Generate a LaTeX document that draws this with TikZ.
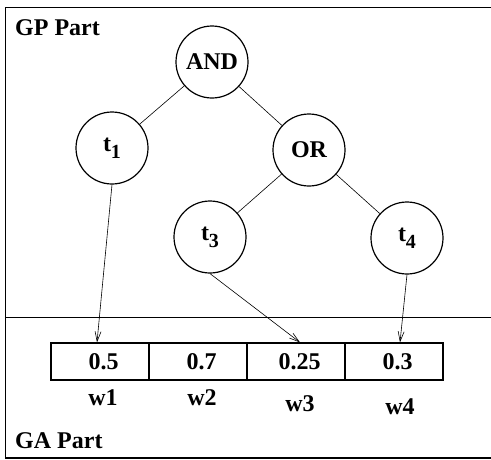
\documentclass[tikz,border=0pt]{standalone}
\usepackage{fontspec}
\setmainfont{Liberation Serif}
\usetikzlibrary{arrows.meta}
\newcommand{\tsub}[1]{t\raisebox{-7pt}{\fontsize{20}{20}\selectfont #1}}
\begin{document}
\begin{tikzpicture}[x=1pt, y=-1pt, >={Straight Barb[length=10pt,width=6pt]},
  every node/.style={font=\fontsize{24}{24}\selectfont\bfseries},
  gene/.style={draw, circle, line width=1.2pt, minimum size=72pt, inner sep=0pt},
  cell/.style={draw, line width=1.2pt, minimum width=98pt, minimum height=37pt, inner sep=0pt}]
  \useasboundingbox (0,0) rectangle (491,459);
  % frame and divider
  \draw[line width=1.6pt] (500,7.5) -- (5.5,7.5) -- (5.5,458) -- (500,458);
  \draw[line width=1.6pt] (5.5,317.5) -- (500,317.5);
  \node[anchor=base west, inner sep=0pt] (gp) at (15,35) {GP Part};
  \node[anchor=base west, inner sep=0pt] (ga) at (15,448) {GA Part};
  % GP tree
  \node[gene] (and) at (212,62) {AND};
  \node[gene] (t1) at (112,148) {\tsub{1}};
  \node[gene] (or) at (309,150) {OR};
  \node[gene] (t3) at (210,237) {\tsub{3}};
  \node[gene] (t4) at (407,238) {\tsub{4}};
  \draw[line width=0.6pt] (and) -- (t1);
  \draw[line width=0.6pt] (and) -- (or);
  \draw[line width=0.6pt] (or) -- (t3);
  \draw[line width=0.6pt] (or) -- (t4);
  % GA weights
  \node[cell] (c1) at (100,361.5) {\hspace{7pt}0.5};
  \node[cell] (c2) at (198,361.5) {\hspace{7pt}0.7};
  \node[cell] (c3) at (296,361.5) {\hspace{7pt}0.25};
  \node[cell] (c4) at (394,361.5) {\hspace{7pt}0.3};
  \node (w1) at (103,398) {w1};
  \node (w2) at (202,398) {w2};
  \node (w3) at (300,404) {w3};
  \node (w4) at (400,407) {w4};
  % links
  \draw[->, line width=0.6pt] (t1.south) -- ([xshift=-3pt]c1.north);
  \draw[->, line width=0.6pt] (t3.south) -- ([xshift=4pt]c3.north);
  \draw[->, line width=0.6pt] (t4.south) -- ([xshift=6pt]c4.north);
\end{tikzpicture}
\end{document}
